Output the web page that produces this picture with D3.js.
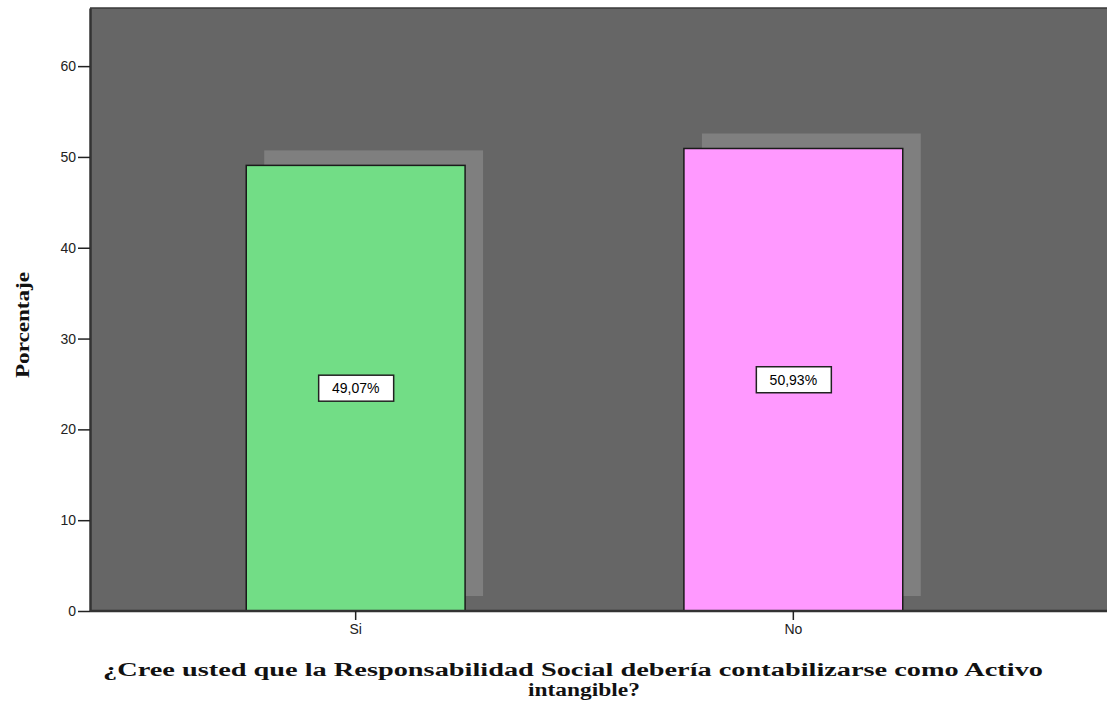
<!DOCTYPE html>
<html>
  <head>
    <meta charset="utf-8">
    <title>Porcentaje - Responsabilidad Social</title>
    <script src="https://d3js.org/d3.v7.min.js"></script>
    <style>
      body { margin: 0; background: #fff; }
      svg { display: block; }
    </style>
  </head>
  <body>
    <div id="chart"></div>
    <script>
    // data
    var categories = ["Si", "No"];
    var percents = [49.07, 50.93];
    var pctLabels = ["49,07%", "50,93%"];
    var yTicks = [0, 10, 20, 30, 40, 50, 60];
    var xTitle = ["¿Cree usted que la Responsabilidad Social debería contabilizarse como Activo", "intangible?"];
    var yTitle = "Porcentaje";

    var W = 1107, H = 707;
    var plot = {left: 90, top: 8, right: 1059, bottom: 611};

    var svg = d3.select("#chart").append("svg")
      .attr("width", W)
      .attr("height", H);

    var x = d3.scaleBand()
      .domain(categories)
      .range([plot.left, plot.right])
      .paddingInner(0.5)
      .paddingOuter(0.357);

    var y = d3.scaleLinear()
      .domain([0, 66.4])
      .range([plot.bottom, plot.top]);

    var color = d3.scaleOrdinal().domain(categories).range(["#72dd86", "#ff99ff"]);

    // background of the plot area (runs off the right edge like the original)
    svg.append("rect")
      .attr("x", plot.left)
      .attr("y", plot.top)
      .attr("width", W - plot.left + 5)
      .attr("height", plot.bottom - plot.top)
      .attr("fill", "#666666");

    // frame line on top
    svg.append("line")
      .attr("x1", plot.left).attr("x2", W)
      .attr("y1", plot.top).attr("y2", plot.top)
      .attr("stroke", "#3a3a3a").attr("stroke-width", 1.5);

    // shadows behind bars
    svg.selectAll(".shadow")
      .data(percents)
      .enter().append("rect")
      .attr("class", "shadow")
      .attr("x", (d, i) => x(categories[i]) + 18)
      .attr("y", d => y(d) - 15)
      .attr("width", x.bandwidth())
      .attr("height", d => y(0) - y(d))
      .attr("fill", "#7f7f7f");

    // bars
    svg.selectAll(".bar")
      .data(percents)
      .enter().append("rect")
      .attr("class", "bar")
      .attr("x", (d, i) => x(categories[i]))
      .attr("y", d => y(d))
      .attr("width", x.bandwidth())
      .attr("height", d => y(0) - y(d))
      .attr("fill", (d, i) => color(categories[i]))
      .attr("stroke", "#1a1a1a")
      .attr("stroke-width", 1.5);

    // value labels in white boxes at half height
    var lab = svg.selectAll(".lab")
      .data(percents)
      .enter().append("g")
      .attr("class", "lab")
      .attr("transform", (d, i) => "translate(" + (x(categories[i]) + x.bandwidth() / 2) + "," + y(d / 2) + ")");

    lab.append("rect")
      .attr("x", -37)
      .attr("y", -13)
      .attr("width", 75)
      .attr("height", 26)
      .attr("fill", "#fff")
      .attr("stroke", "#222")
      .attr("stroke-width", 1.5);

    lab.append("text")
      .attr("text-anchor", "middle")
      .attr("dy", "0.36em")
      .attr("font-family", "Liberation Sans, Arial, sans-serif")
      .attr("font-size", 14)
      .attr("fill", "#000")
      .text((d, i) => pctLabels[i]);

    // y axis
    var yAxis = svg.append("g")
      .attr("transform", "translate(" + plot.left + ",0)")
      .call(d3.axisLeft(y).tickValues(yTicks).tickSize(12).tickPadding(2).tickSizeOuter(0));
    yAxis.select(".domain").attr("stroke", "#333").attr("stroke-width", 2.5);
    yAxis.selectAll(".tick line").attr("stroke", "#222").attr("stroke-width", 1.5);
    yAxis.selectAll("text")
      .attr("font-family", "Liberation Sans, Arial, sans-serif")
      .attr("font-size", 14)
      .attr("fill", "#222");

    // x axis (domain line extended to the right edge)
    var xAxis = svg.append("g")
      .attr("transform", "translate(0," + plot.bottom + ")")
      .call(d3.axisBottom(x).tickSize(9).tickPadding(4).tickSizeOuter(0));
    xAxis.select(".domain").attr("d", "M" + plot.left + ",0H" + W)
      .attr("stroke", "#333").attr("stroke-width", 2.5);
    xAxis.selectAll(".tick line").attr("stroke", "#222").attr("stroke-width", 1.5);
    xAxis.selectAll("text")
      .attr("font-family", "Liberation Sans, Arial, sans-serif")
      .attr("font-size", 14)
      .attr("fill", "#222");

    // axis titles
    svg.append("text")
      .attr("transform", "translate(29,325) rotate(-90)")
      .attr("text-anchor", "middle")
      .attr("font-family", "Liberation Serif, Times New Roman, serif")
      .attr("font-weight", "bold")
      .attr("font-size", 18)
      .attr("textLength", 106)
      .attr("lengthAdjust", "spacingAndGlyphs")
      .attr("fill", "#111")
      .text(yTitle);

    // two-line x title, widths
    var titleWidths = [940, 112];
    svg.selectAll(".xtitle")
      .data(xTitle)
      .enter().append("text")
      .attr("class", "xtitle")
      .attr("x", (d, i) => i === 0 ? 573 : 584)
      .attr("y", (d, i) => 676 + i * 20)
      .attr("text-anchor", "middle")
      .attr("font-family", "Liberation Serif, Times New Roman, serif")
      .attr("font-weight", "bold")
      .attr("font-size", 18)
      .attr("textLength", (d, i) => titleWidths[i])
      .attr("lengthAdjust", "spacingAndGlyphs")
      .attr("fill", "#111")
      .text(d => d);
    </script>
  </body>
</html>
